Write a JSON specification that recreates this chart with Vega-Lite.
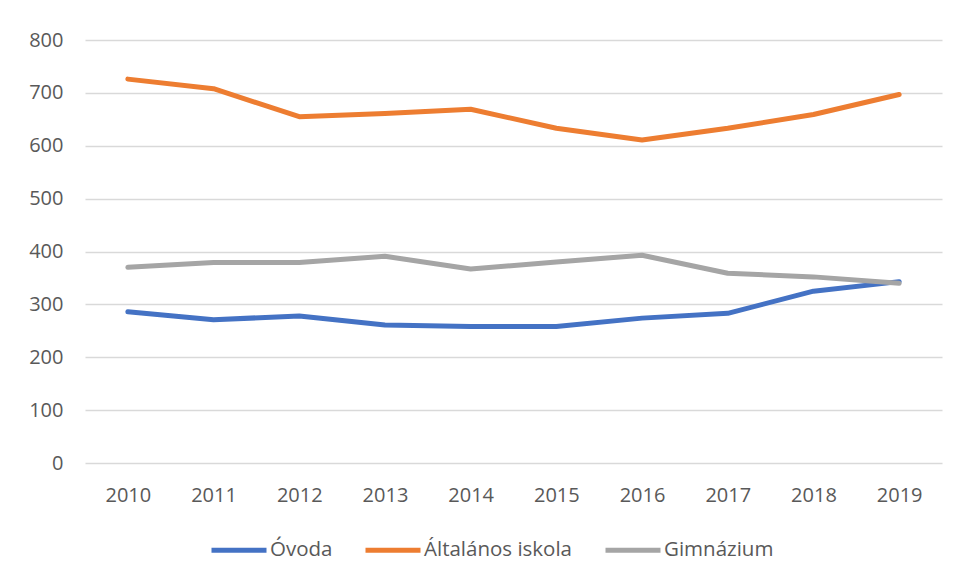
{
  "$schema": "https://vega.github.io/schema/vega-lite/v6.json",
  "autosize": "none",
  "width": 857,
  "height": 423,
  "padding": {"left": 85, "top": 40, "right": 16, "bottom": 118},
  "background": "white",
  "config": {
    "view": {"stroke": null},
    "font": "Open Sans",
    "axis": {"labelFont": "Open Sans", "labelFontSize": 20, "labelColor": "#595959", "domain": false, "ticks": false, "gridColor": "#D9D9D9", "gridWidth": 1.3}
  },
  "data": {
    "values": [
      {"year": "2010", "series": "Óvoda", "value": 286},
      {"year": "2011", "series": "Óvoda", "value": 271},
      {"year": "2012", "series": "Óvoda", "value": 278},
      {"year": "2013", "series": "Óvoda", "value": 261},
      {"year": "2014", "series": "Óvoda", "value": 258},
      {"year": "2015", "series": "Óvoda", "value": 258},
      {"year": "2016", "series": "Óvoda", "value": 274},
      {"year": "2017", "series": "Óvoda", "value": 283},
      {"year": "2018", "series": "Óvoda", "value": 325},
      {"year": "2019", "series": "Óvoda", "value": 343},
      {"year": "2010", "series": "Általános iskola", "value": 726},
      {"year": "2011", "series": "Általános iskola", "value": 708},
      {"year": "2012", "series": "Általános iskola", "value": 655},
      {"year": "2013", "series": "Általános iskola", "value": 661},
      {"year": "2014", "series": "Általános iskola", "value": 669},
      {"year": "2015", "series": "Általános iskola", "value": 633},
      {"year": "2016", "series": "Általános iskola", "value": 611},
      {"year": "2017", "series": "Általános iskola", "value": 633},
      {"year": "2018", "series": "Általános iskola", "value": 659},
      {"year": "2019", "series": "Általános iskola", "value": 697},
      {"year": "2010", "series": "Gimnázium", "value": 370},
      {"year": "2011", "series": "Gimnázium", "value": 379},
      {"year": "2012", "series": "Gimnázium", "value": 379},
      {"year": "2013", "series": "Gimnázium", "value": 391},
      {"year": "2014", "series": "Gimnázium", "value": 367},
      {"year": "2015", "series": "Gimnázium", "value": 380},
      {"year": "2016", "series": "Gimnázium", "value": 393},
      {"year": "2017", "series": "Gimnázium", "value": 359},
      {"year": "2018", "series": "Gimnázium", "value": 352},
      {"year": "2019", "series": "Gimnázium", "value": 340}
    ]
  },
  "mark": {"type": "line", "strokeWidth": 5, "strokeCap": "round", "strokeJoin": "round"},
  "encoding": {
    "x": {
      "field": "year", "type": "ordinal",
      "scale": {"type": "point", "padding": 0.5},
      "axis": {"title": null, "labelAngle": 0, "grid": false, "labelPadding": 22}
    },
    "y": {
      "field": "value", "type": "quantitative",
      "scale": {"domain": [0, 800], "nice": false},
      "axis": {"title": null, "values": [0, 100, 200, 300, 400, 500, 600, 700, 800], "labelPadding": 22}
    },
    "color": {
      "field": "series", "type": "nominal",
      "scale": {"domain": ["Óvoda", "Általános iskola", "Gimnázium"], "range": ["#4472C4", "#ED7D31", "#A5A5A5"]},
      "legend": {
        "title": null, "orient": "none", "legendX": 124, "legendY": 480, "direction": "horizontal",
        "symbolType": "stroke", "symbolSize": 3025, "symbolStrokeWidth": 5, "symbolStrokeColor": null,
        "labelFont": "Open Sans", "labelFontSize": 20.5, "labelColor": "#595959", "labelOffset": 1,
        "columnPadding": 22, "padding": 0
      }
    },
    "order": {"field": "year"}
  }
}
